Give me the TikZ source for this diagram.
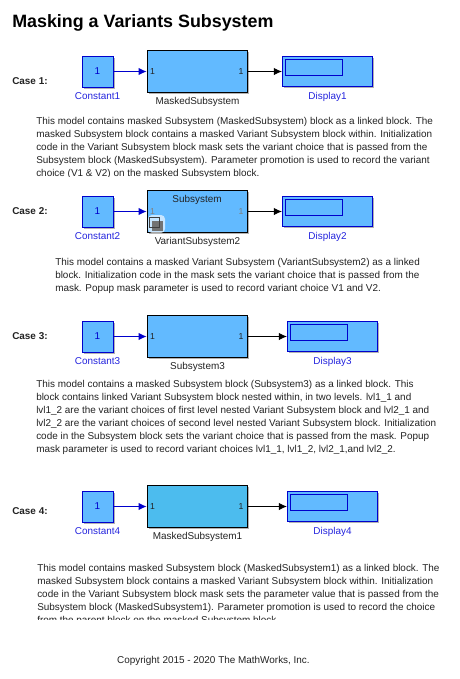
\documentclass[tikz,border=0pt]{standalone}
\usepackage{fontspec}
\setmainfont{Liberation Sans}
\usetikzlibrary{arrows.meta,positioning,shadows}
\definecolor{mwBlue}{HTML}{62BAFF}
\definecolor{mwCyan}{HTML}{4CBCEE}
\definecolor{mwWire}{HTML}{0000CC}
\definecolor{mwLabel}{HTML}{2323DD}
\definecolor{mwInk}{HTML}{222222}
\tikzset{
  blockshadow/.style={drop shadow={shadow xshift=1.2pt, shadow yshift=-1.2pt, opacity=0.3, fill=black}},
  constblk/.style={draw=mwWire, fill=mwBlue, line width=0.7pt, minimum width=23.25pt, minimum height=23.25pt, inner sep=0pt, text=mwWire, text height=5.4pt, text depth=1.5pt, font=\fontsize{7.45}{9}\selectfont, blockshadow},
  subblk/.style={draw=black, fill=mwBlue, line width=0.8pt, minimum width=75.5pt, minimum height=32pt, inner sep=0pt, blockshadow},
  dispblk/.style={draw=mwWire, fill=mwBlue, line width=0.7pt, minimum width=67.6pt, minimum height=23pt, inner sep=0pt, blockshadow},
  dispwin/.style={draw=mwWire, line width=0.7pt, minimum width=43pt, minimum height=12pt, inner sep=0pt},
  blklbl/.style={inner sep=0pt, text=mwLabel, font=\fontsize{7.45}{9}\selectfont},
  sublbl/.style={blklbl, text=mwInk},
  caselbl/.style={inner sep=0pt, anchor=west, text=mwInk, font=\bfseries\fontsize{7.45}{9}\selectfont},
  para/.style={inner sep=0pt, anchor=north west, align=left, text=mwInk, font=\fontsize{7.45}{9.75}\selectfont},
  portlbl/.style={inner sep=0pt, text=mwInk, font=\fontsize{6.5}{8}\selectfont},
  wireB/.style={-{Latex[length=6pt,width=5.5pt]}, draw=mwWire, line width=0.7pt},
  wireK/.style={-{Latex[length=6pt,width=5.5pt]}, draw=black, line width=0.7pt},
}
\begin{document}
\begin{tikzpicture}[x=0.75pt,y=-0.75pt]
  \useasboundingbox (0,0) rectangle (460,679);
  \node[inner sep=0pt, anchor=west, text=black, font=\bfseries\fontsize{13.4}{16}\selectfont] (title) at (12,23) {Masking a Variants Subsystem};

  % case 1
  \node[caselbl] (case1) at (12,81) {Case 1:};
  \node[constblk] (const1) at (97.5,71.5) {1};
  \node[blklbl, below=3.3pt of const1] (const1l) {Constant1};
  \node[subblk] (sub1) at (197.5,71.5) {};
  \node[sublbl, below=3pt of sub1] (sub1l) {MaskedSubsystem};
  \node[dispblk] (disp1) at (327.5,71.5) {};
  \node[dispwin] (win1) at (314,67) {};
  \node[blklbl, below=3.3pt of disp1] (disp1l) {Display1};
  \node[portlbl] (in1) at (152.5,72) {1};
  \node[portlbl] (out1) at (241,72) {1};
  \draw[wireB] (const1) -- (sub1);
  \draw[wireK] (sub1) -- (disp1);
  \begin{scope}
    \clip (0,108) rectangle (460,176);
    \node[para] (text1) at (36,117) {This model contains masked Subsystem (MaskedSubsystem) block as a linked block. The\\
      masked Subsystem block contains a masked Variant Subsystem block within. Initialization\\
      code in the Variant Subsystem block mask sets the variant choice that is passed from the\\
      Subsystem block (MaskedSubsystem). Parameter promotion is used to record the variant\\
      choice (V1 \& V2) on the masked Subsystem block.};
  \end{scope}

  % case 2
  \node[caselbl] (case2) at (12,211) {Case 2:};
  \node[constblk] (const2) at (97.5,211.5) {1};
  \node[blklbl, below=3.3pt of const2] (const2l) {Constant2};
  \node[subblk] (sub2) at (197.5,211.5) {};
  \node[inner sep=0pt, text=mwInk, font=\fontsize{7.45}{9}\selectfont] (sub2t) at (197,199.5) {Subsystem};
  \node[sublbl, below=3pt of sub2] (sub2l) {VariantSubsystem2};
  \node[dispblk] (disp2) at (327.5,211.5) {};
  \node[dispwin] (win2) at (314,207) {};
  \node[blklbl, below=3.3pt of disp2] (disp2l) {Display2};
  \node[portlbl, text=gray] (in2) at (152.5,212) {1};
  \node[portlbl, text=gray] (out2) at (241,212) {1};
  \fill[white, opacity=0.65, rounded corners=3pt] (148,215) rectangle (165,233);
  \fill[gray!90!black] (152,221) rectangle (163,231);
  \draw[black!75, line width=0.5pt] (149.5,217) rectangle (159,227);
  \draw[wireB] (const2) -- (sub2);
  \draw[wireK] (sub2) -- (disp2);
  \node[para] (text2) at (55,258) {This model contains a masked Variant Subsystem (VariantSubsystem2) as a linked\\
    block. Initialization code in the mask sets the variant choice that is passed from the\\
    mask. Popup mask parameter is used to record variant choice V1 and V2.};

  % case 3
  \node[caselbl] (case3) at (12,336) {Case 3:};
  \node[constblk] (const3) at (97.5,336.5) {1};
  \node[blklbl, below=3.3pt of const3] (const3l) {Constant3};
  \node[subblk] (sub3) at (197.5,336.5) {};
  \node[sublbl, below=3pt of sub3] (sub3l) {Subsystem3};
  \node[dispblk] (disp3) at (332.5,336.5) {};
  \node[dispwin] (win3) at (319,332) {};
  \node[blklbl, below=3.3pt of disp3] (disp3l) {Display3};
  \node[portlbl] (in3) at (152.5,337) {1};
  \node[portlbl] (out3) at (241,337) {1};
  \draw[wireB] (const3) -- (sub3);
  \draw[wireK] (sub3) -- (disp3);
  \node[para] (text3) at (36,380) {This model contains a masked Subsystem block (Subsystem3) as a linked block. This\\
    block contains linked Variant Subsystem block nested within, in two levels. lvl1\_1 and\\
    lvl1\_2 are the variant choices of first level nested Variant Subsystem block and lvl2\_1 and\\
    lvl2\_2 are the variant choices of second level nested Variant Subsystem block. Initialization\\
    code in the Subsystem block sets the variant choice that is passed from the mask. Popup\\
    mask parameter is used to record variant choices lvl1\_1, lvl1\_2, lvl2\_1,and lvl2\_2.};

  % case 4
  \node[caselbl] (case4) at (12,511) {Case 4:};
  \node[constblk] (const4) at (97.5,506.5) {1};
  \node[blklbl, below=3.3pt of const4] (const4l) {Constant4};
  \node[subblk, fill=mwCyan] (sub4) at (197.5,506.5) {};
  \node[sublbl, below=3pt of sub4] (sub4l) {MaskedSubsystem1};
  \node[dispblk] (disp4) at (332.5,506.5) {};
  \node[dispwin] (win4) at (319,502) {};
  \node[blklbl, below=3.3pt of disp4] (disp4l) {Display4};
  \node[portlbl] (in4) at (152.5,507) {1};
  \node[portlbl] (out4) at (241,507) {1};
  \draw[wireB] (const4) -- (sub4);
  \draw[wireK] (sub4) -- (disp4);
  \begin{scope}
    \clip (0,555) rectangle (460,619.5);
    \node[para] (text4) at (37,564) {This model contains masked Subsystem block (MaskedSubsystem1) as a linked block. The\\
      masked Subsystem block contains a masked Variant Subsystem block within. Initialization\\
      code in the Variant Subsystem block mask sets the parameter value that is passed from the\\
      Subsystem block (MaskedSubsystem1). Parameter promotion is used to record the choice\\
      from the parent block on the masked Subsystem block.};
  \end{scope}

  \node[inner sep=0pt, text=mwInk, font=\fontsize{7.45}{9}\selectfont] (copy) at (213.5,660.5) {Copyright 2015 - 2020 The MathWorks, Inc.};
\end{tikzpicture}
\end{document}
